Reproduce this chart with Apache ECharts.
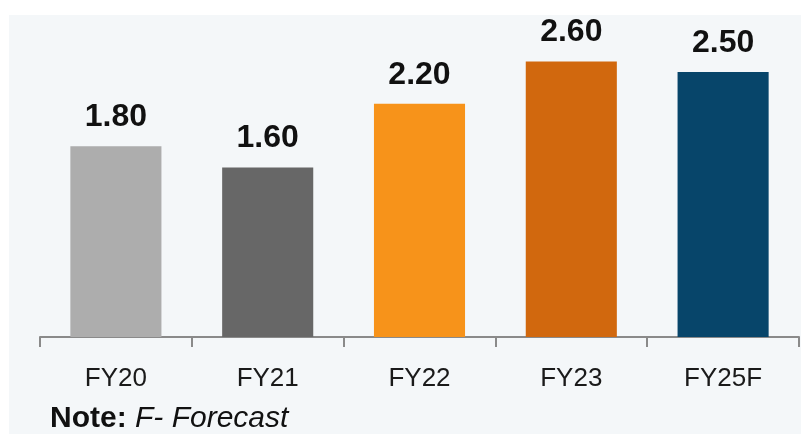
<!DOCTYPE html>
<html>
<head>
<meta charset="utf-8">
<script src="https://cdn.jsdelivr.net/npm/echarts@6/dist/echarts.min.js"></script>
<style>html,body{margin:0;padding:0;background:#fff;}#c{width:801px;height:434px;}</style>
</head>
<body>
<div id="c"></div>
<script>
var categories = ['FY20', 'FY21', 'FY22', 'FY23', 'FY25F'];
var values = [1.80, 1.60, 2.20, 2.60, 2.50];
var barColors = ['#adadad', '#676767', '#f7931a', '#d1680e', '#07456a'];

var chart = echarts.init(document.getElementById('c'), null, {renderer: 'canvas'});
chart.setOption({
  animation: false,
  backgroundColor: '#ffffff',
  graphic: [
    {type: 'rect', left: 9, top: 15, z: -10, shape: {width: 792, height: 419}, style: {fill: '#f4f7f9'}},
    {type: 'text', left: 50, top: 404, z: 10, style: {
      rich: {
        b: {fontFamily: 'Liberation Sans, Arial, sans-serif', fontWeight: 'bold', fontSize: 30, fill: '#111'},
        i: {fontFamily: 'Liberation Sans, Arial, sans-serif', fontStyle: 'italic', fontSize: 30, fill: '#111'}
      },
      text: '{b|Note:}{i|\u00a0F- Forecast}'
    }}
  ],
  grid: {left: 40, right: 2, top: 19, bottom: 97, containLabel: false},
  xAxis: {
    type: 'category',
    data: categories,
    axisLine: {show: true, lineStyle: {color: '#8a8a8a', width: 2}},
    axisTick: {show: true, length: 10, alignWithLabel: false, lineStyle: {color: '#8a8a8a', width: 2}},
    axisLabel: {color: '#1a1a1a', fontSize: 26, fontFamily: 'Liberation Sans, Arial, sans-serif', margin: 29}
  },
  yAxis: {
    type: 'value', min: 0, max: 3,
    show: false,
    splitLine: {show: false}
  },
  series: [{
    type: 'bar',
    data: values.map(function (v, i) { return {value: v, itemStyle: {color: barColors[i]}}; }),
    barWidth: '60%',
    label: {
      show: true, position: 'top', distance: 13,
      formatter: function (p) { return p.value.toFixed(2); },
      fontFamily: 'Liberation Sans, Arial, sans-serif', fontWeight: 'bold', fontSize: 32, color: '#111'
    }
  }]
});
</script>
</body>
</html>
